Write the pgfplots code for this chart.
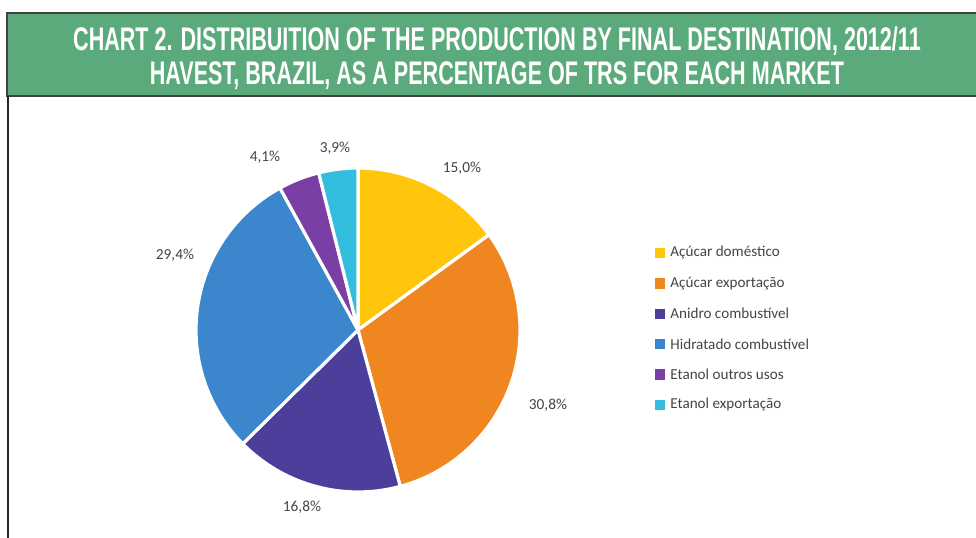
\documentclass[border=0pt]{standalone}
\usepackage{pgfplots}
\pgfplotsset{compat=1.18}
\usepackage{pgfplotstable}
\usepackage{fontspec}
\setmainfont{Carlito}
\newfontfamily\titlefont[FakeStretch=0.66]{Liberation Sans}
\definecolor{pie0}{HTML}{FFC60B}
\definecolor{pie1}{HTML}{F0861F}
\definecolor{pie2}{HTML}{4B3F9B}
\definecolor{pie3}{HTML}{3B86CC}
\definecolor{pie4}{HTML}{7A3FA4}
\definecolor{pie5}{HTML}{33BEDF}
\definecolor{titlegreen}{RGB}{91,170,123}
\definecolor{txtgray}{HTML}{444444}
% value, legend name, label position (pixels)
\pgfplotstableread[col sep=comma]{
value,name,lx,ly
15.0,Açúcar doméstico,462,168
30.8,Açúcar exportação,548,405
16.8,Anidro combustível,302,507
29.4,Hidratado combustível,175,255
4.1,Etanol outros usos,265,157
3.9,Etanol exportação,335,148
}\piedata
\begin{document}
\begin{tikzpicture}
\begin{axis}[name=ax, x=0.5bp, y=0.5bp, xmin=0, xmax=976, ymin=0, ymax=538,
  y dir=reverse, hide axis, clip=false, enlargelimits=false,
  /pgf/number format/assume math mode=true]
\pgfplotsextra{
  % title box
  \fill[titlegreen] (axis cs:7,13) rectangle (axis cs:980,96);
  \draw[black!75, line width=0.8bp] (axis cs:980,13) -- (axis cs:7,13) -- (axis cs:7,96) -- (axis cs:980,96);
  \draw[black!85, line width=0.8bp] (axis cs:8,96) -- (axis cs:8,540);
  \node[text=white, align=center, font=\titlefont\bfseries\fontsize{16.4}{17.2}\selectfont]
    at (axis cs:497,58) {CHART 2. DISTRIBUITION OF THE PRODUCTION BY FINAL DESTINATION, 2012/11\\HAVEST, BRAZIL, AS A PERCENTAGE OF TRS FOR EACH MARKET};
  % pie
  \def\cum{90}
  \pgfplotsforeachungrouped \i in {0,...,5}{
    \pgfplotstablegetelem{\i}{value}\of\piedata
    \let\v\pgfplotsretval
    \pgfplotstablegetelem{\i}{name}\of\piedata
    \let\nm\pgfplotsretval
    \pgfplotstablegetelem{\i}{lx}\of\piedata
    \let\lx\pgfplotsretval
    \pgfplotstablegetelem{\i}{ly}\of\piedata
    \let\lyy\pgfplotsretval
    \pgfmathsetmacro\e{\cum-3.6*\v}
    \filldraw[fill=pie\i, draw=white, line width=1.6bp, line join=round]
      (axis cs:358,330) -- ++(\cum:81bp) arc[start angle=\cum, end angle=\e, radius=81bp] -- cycle;
    \node[text=txtgray, font=\fontsize{7.7}{9}\selectfont] at (axis cs:\lx,\lyy)
      {\pgfmathprintnumber[fixed, fixed zerofill, precision=1, use comma]{\v}\%};
    \pgfmathsetmacro\ly{253+30.4*\i}
    \fill[pie\i] (axis cs:660,\ly) ++(-2.6bp,-2.6bp) rectangle ++(5.2bp,5.2bp);
    \node[anchor=west, text=txtgray, font=\fontsize{7.6}{9}\selectfont, inner sep=0pt]
      at (axis cs:670,\ly) {\nm};
    \let\cum\e
  }
}
\end{axis}
\pgfresetboundingbox
\path (ax.south west) rectangle (ax.north east);
\end{tikzpicture}
\end{document}
